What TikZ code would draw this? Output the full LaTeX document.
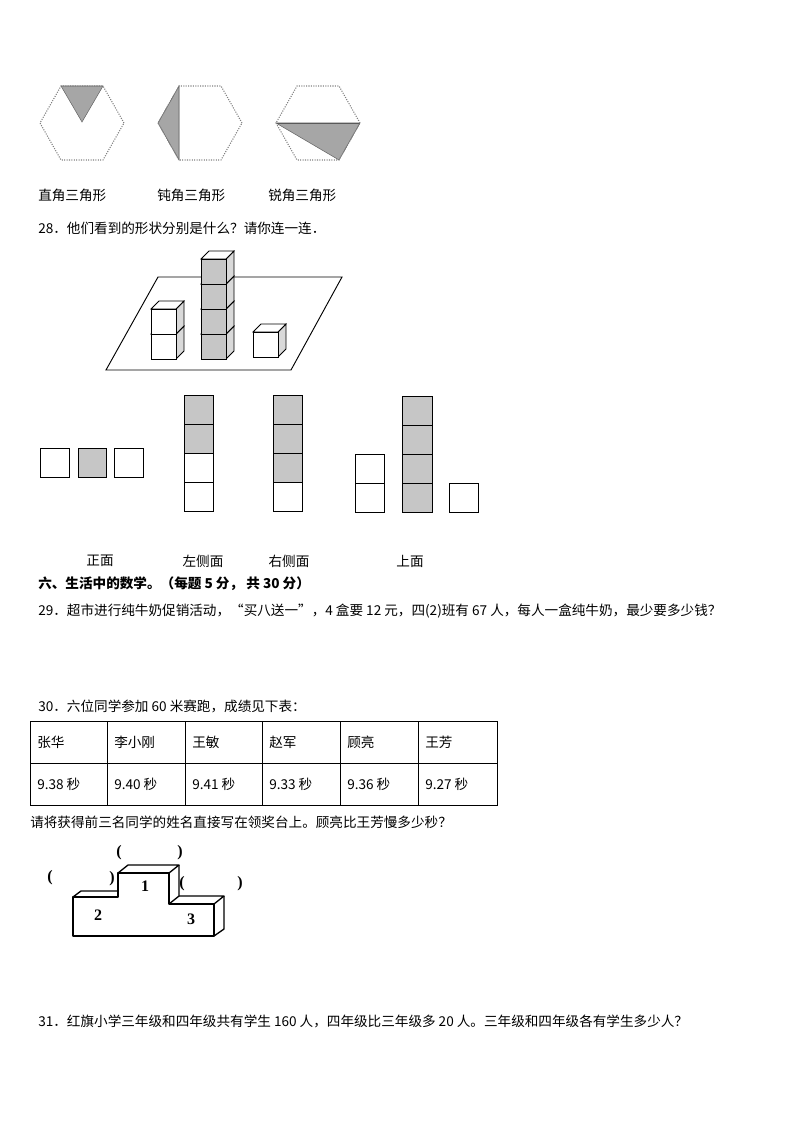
\documentclass[tikz,border=0pt]{standalone}
\usepackage{fontspec}
\setmainfont{Noto Sans CJK SC}
\newfontfamily\serifnum{Liberation Serif}
\begin{document}
\begin{tikzpicture}[x=0.75pt,y=-0.75pt,
  hexs/.style={draw=gray,densely dotted,line width=0.8pt},
  shade/.style={fill=gray!70,draw=gray!80!black,line width=0.4pt},
  sq/.style={draw,line width=0.6pt},
  gsq/.style={draw,fill=gray!45,line width=0.6pt},
  txt/.style={anchor=west,inner sep=0pt,font=\fontsize{10.2pt}{12pt}\selectfont},
  ctxt/.style={inner sep=0pt,font=\fontsize{10.2pt}{12pt}\selectfont},
  par/.style={inner sep=0pt,font=\serifnum\bfseries\fontsize{12pt}{12pt}\selectfont}]
\useasboundingbox (0,0) rectangle (794,1123);
% hexagons
\foreach \cx/\n in {82/a,200/b,318/c}{
  \coordinate (\n0) at (\cx+42,123);
  \coordinate (\n1) at (\cx+21,86);
  \coordinate (\n2) at (\cx-21,86);
  \coordinate (\n3) at (\cx-42,123);
  \coordinate (\n4) at (\cx-21,160);
  \coordinate (\n5) at (\cx+21,160);
}
\coordinate (ac) at (82,122);
\fill[shade] (a2) -- (a1) -- (ac) -- cycle;
\fill[shade] (b3) -- (b2) -- (b4) -- cycle;
\draw[gray!60,line width=0.4pt] (b2) -- (b4);
\fill[shade] (c3) -- (c0) -- (c5) -- cycle;
\draw[line width=0.5pt,gray!70!black] (c3) -- (c0);
\foreach \n in {a,b,c}{\draw[hexs] (\n0)--(\n1)--(\n2)--(\n3)--(\n4)--(\n5)--cycle;}
\node[txt] (l1) at (38,195) {直角三角形};
\node[txt] (l2) at (157,195) {钝角三角形};
\node[txt] (l3) at (268,195) {锐角三角形};
\node[txt] (q28) at (38,228) {28．他们看到的形状分别是什么？请你连一连．};
% platform
\draw[line width=0.7pt] (106,370) -- (158,277) -- (342,277) -- (291,370) -- cycle;
\foreach \x/\y/\f in {151/334/white,151/309/white,201/334/gray!45,201/309/gray!45,201/284/gray!45,201/259/gray!45,253/332/white}{
  \filldraw[fill=gray!30,line width=0.6pt] (\x+25,\y) -- (\x+33,\y-8) -- (\x+33,\y+17) -- (\x+25,\y+25) -- cycle;
  \filldraw[fill=white,line width=0.6pt] (\x,\y) -- (\x+8,\y-8) -- (\x+33,\y-8) -- (\x+25,\y) -- cycle;
  \filldraw[fill=\f,line width=0.6pt] (\x,\y) rectangle (\x+25,\y+25);
}
% views
\draw[sq] (40,448) rectangle (69,477);
\draw[gsq] (78,448) rectangle (106,477);
\draw[sq] (114,448) rectangle (143,477);
\foreach \i/\s in {0/gsq,1/gsq,2/sq,3/sq}{\draw[\s] (184,395+29*\i) rectangle (213,424+29*\i);}
\foreach \i/\s in {0/gsq,1/gsq,2/gsq,3/sq}{\draw[\s] (273,395+29*\i) rectangle (302,424+29*\i);}
\foreach \i in {0,1}{\draw[sq] (355,454+29*\i) rectangle (384,483+29*\i);}
\foreach \i in {0,1,2,3}{\draw[gsq] (402,396+29*\i) rectangle (432,425+29*\i);}
\draw[sq] (449,483) rectangle (478,512);
\node[ctxt] (v1) at (100,561) {正面};
\node[ctxt] (v2) at (203,561) {左侧面};
\node[ctxt] (v3) at (289,561) {右侧面};
\node[ctxt] (v4) at (410,561) {上面};
\node[txt,font=\bfseries\fontsize{10.2pt}{12pt}\selectfont] (s6) at (38,584) {六、生活中的数学。（每题 5 分， 共 30 分）};
\node[txt] (q29) at (38,611) {29．超市进行纯牛奶促销活动，“买八送一”，4 盒要 12 元，四(2)班有 67 人，每人一盒纯牛奶，最少要多少钱？};
\node[txt] (q30) at (38,706) {30．六位同学参加 60 米赛跑，成绩见下表：};
% table
\draw[line width=0.7pt] (30,721) rectangle (497,805);
\draw[line width=0.7pt] (30,763) -- (497,763);
\foreach \x in {107,185,262,340,418}{\draw[line width=0.7pt] (\x,721) -- (\x,805);}
\foreach \x/\a/\b in {37/张华/9.38 秒,114/李小刚/9.40 秒,192/王敏/9.41 秒,269/赵军/9.33 秒,347/顾亮/9.36 秒,425/王芳/9.27 秒}{
  \node[txt] at (\x,742) {\a};
  \node[txt] at (\x,784) {\b};
}
\node[txt] (q30b) at (30,822) {请将获得前三名同学的姓名直接写在领奖台上。顾亮比王芳慢多少秒？};
% podium
\draw[line width=1pt,line join=round] (73,897) -- (81,891) -- (118,891);
\draw[line width=1pt,line join=round] (118,873) -- (128,865) -- (179,865) -- (169,873);
\draw[line width=1pt,line join=round] (179,865) -- (179,896) -- (169,904);
\draw[line width=1pt,line join=round] (179,896) -- (224,896) -- (214,904);
\draw[line width=1pt,line join=round] (224,896) -- (224,929) -- (214,936);
\draw[line width=1pt,line join=round] (73,936) -- (73,897) -- (118,897) -- (118,873) -- (169,873) -- (169,904) -- (214,904) -- (214,936) -- cycle;
\node[par] (p1) at (145,886) {1};
\node[par] (p2) at (98,915) {2};
\node[par] (p3) at (191,919) {3};
\node[par] (b1) at (50,878) {(};
\node[par] (b2) at (112,879) {)};
\node[par] (b3) at (119,853) {(};
\node[par] (b4) at (180,853) {)};
\node[par] (b5) at (182,884) {(};
\node[par] (b6) at (240,884) {)};
\node[txt] (q31) at (38,1021) {31．红旗小学三年级和四年级共有学生 160 人，四年级比三年级多 20 人。三年级和四年级各有学生多少人？};
\end{tikzpicture}
\end{document}
